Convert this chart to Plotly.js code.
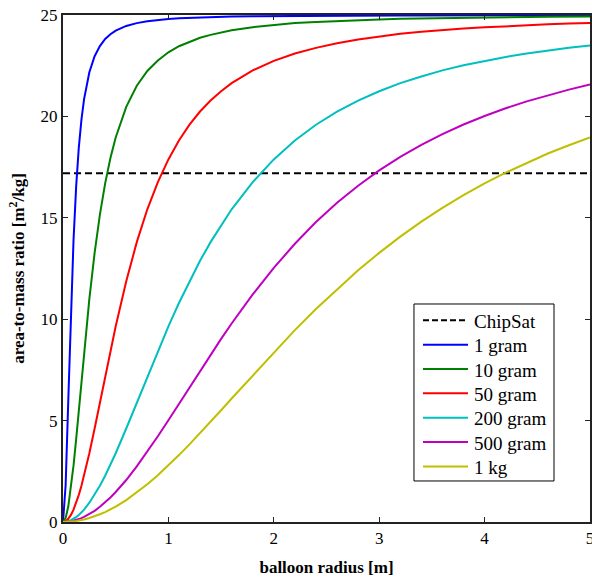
<!DOCTYPE html>
<html>
<head>
<meta charset="utf-8">
<script src="https://cdn.plot.ly/plotly-3.0.1.min.js"></script>
<style>
html,body{margin:0;padding:0;background:#fff;}
#chart{width:592px;height:577px;}
</style>
</head>
<body>
<div id="chart"></div>
<script>
// balloon radius [m]
const radius = [0, 0.025, 0.05, 0.075, 0.1, 0.125, 0.15, 0.175, 0.2, 0.25, 0.3, 0.35, 0.4, 0.45, 0.5, 0.6, 0.7, 0.8, 0.9, 1.0, 1.1, 1.2, 1.3, 1.4, 1.5, 1.6, 1.8, 2.0, 2.2, 2.4, 2.6, 2.8, 3.0, 3.2, 3.4, 3.6, 3.8, 4.0, 4.2, 4.4, 4.6, 4.8, 5.0];

const chipSatLevel = 17.2;

const gram1 = [0, 1.82, 5.98, 10.35, 13.92, 16.56, 18.47, 19.84, 20.85, 22.18, 22.97, 23.47, 23.82, 24.05, 24.23, 24.46, 24.60, 24.69, 24.76, 24.80, 24.84, 24.86, 24.88, 24.90, 24.91, 24.92, 24.94, 24.95, 24.96, 24.97, 24.97, 24.97, 24.98, 24.98, 24.98, 24.98, 24.99, 24.99, 24.99, 24.99, 24.99, 24.99, 24.99];
const gram10 = [0, 0.2, 0.76, 1.65, 2.79, 4.10, 5.51, 6.95, 8.36, 11.00, 13.27, 15.16, 16.70, 17.95, 18.96, 20.47, 21.51, 22.24, 22.76, 23.16, 23.46, 23.69, 23.88, 24.02, 24.15, 24.25, 24.40, 24.51, 24.60, 24.66, 24.71, 24.75, 24.78, 24.81, 24.83, 24.85, 24.86, 24.88, 24.89, 24.90, 24.91, 24.91, 24.92];
const gram50 = [0, 0.04, 0.16, 0.35, 0.61, 0.94, 1.34, 1.79, 2.28, 3.39, 4.61, 5.89, 7.17, 8.43, 9.65, 11.87, 13.80, 15.42, 16.76, 17.88, 18.81, 19.59, 20.24, 20.78, 21.24, 21.64, 22.27, 22.74, 23.10, 23.38, 23.61, 23.79, 23.94, 24.07, 24.17, 24.26, 24.33, 24.39, 24.45, 24.50, 24.54, 24.58, 24.61];
const gram200 = [0, 0.01, 0.04, 0.09, 0.16, 0.24, 0.35, 0.47, 0.61, 0.95, 1.34, 1.79, 2.28, 2.82, 3.39, 4.61, 5.89, 7.17, 8.43, 9.65, 10.80, 11.88, 12.88, 13.80, 14.64, 15.42, 16.76, 17.88, 18.81, 19.59, 20.24, 20.78, 21.24, 21.64, 21.97, 22.27, 22.52, 22.74, 22.93, 23.10, 23.25, 23.38, 23.50];
const gram500 = [0, 0.004, 0.016, 0.035, 0.063, 0.098, 0.14, 0.19, 0.25, 0.39, 0.55, 0.75, 0.97, 1.21, 1.48, 2.07, 2.74, 3.46, 4.23, 5.02, 5.83, 6.64, 7.45, 8.25, 9.03, 9.79, 11.22, 12.53, 13.72, 14.79, 15.74, 16.58, 17.34, 18.00, 18.60, 19.13, 19.60, 20.02, 20.40, 20.74, 21.04, 21.32, 21.57];
const kg1 = [0, 0.002, 0.008, 0.018, 0.031, 0.049, 0.07, 0.096, 0.125, 0.195, 0.28, 0.38, 0.49, 0.62, 0.76, 1.08, 1.45, 1.86, 2.31, 2.79, 3.30, 3.83, 4.38, 4.94, 5.51, 6.09, 7.23, 8.36, 9.46, 10.50, 11.48, 12.41, 13.27, 14.07, 14.81, 15.49, 16.12, 16.70, 17.23, 17.72, 18.17, 18.58, 18.96];

const seriesNames = ["1 gram", "10 gram", "50 gram", "200 gram", "500 gram", "1 kg"];
const seriesData = [gram1, gram10, gram50, gram200, gram500, kg1];
const seriesColors = ["#0000FF", "#008000", "#FF0000", "#00BFBF", "#BF00BF", "#BFBF00"];

const xTicks = [0, 1, 2, 3, 4, 5];
const yTicks = [0, 5, 10, 15, 20, 25];

const fontFam = "Liberation Serif, Times New Roman, serif";

const traces = [{
  x: [radius[0], radius[radius.length - 1]],
  y: [chipSatLevel, chipSatLevel],
  mode: "lines",
  name: "ChipSat",
  line: {color: "#000000", width: 2, dash: "7px,4px"}
}];
seriesData.forEach((d, i) => {
  traces.push({
    x: radius, y: d, mode: "lines", name: seriesNames[i],
    line: {color: seriesColors[i], width: 2}
  });
});

// legend box drawn with paper-referenced shapes & annotations
const legBox = {x0: 0.666, x1: 0.9317, y0: 0.0809, y1: 0.43};
const legLineX0 = 0.6831, legLineX1 = 0.7685, legTextX = 0.776;
const legRowTop = 0.3977, legRowStep = 0.048;
const shapes = [{
  type: "rect", xref: "paper", yref: "paper",
  x0: legBox.x0, x1: legBox.x1, y0: legBox.y0, y1: legBox.y1,
  fillcolor: "#fff", line: {color: "#000", width: 1}, layer: "above"
}];
const annotations = [];
traces.forEach((t, i) => {
  const yy = legRowTop - i * legRowStep;
  shapes.push({
    type: "line", xref: "paper", yref: "paper",
    x0: legLineX0, x1: legLineX1, y0: yy, y1: yy,
    line: {color: t.line.color, width: 2, dash: i === 0 ? "6px,3px" : "solid"}, layer: "above"
  });
  annotations.push({
    xref: "paper", yref: "paper", x: legTextX, y: yy - 0.002,
    xanchor: "left", yanchor: "middle", showarrow: false,
    text: t.name, font: {family: fontFam, size: 19, color: "#000"}
  });
});

const axisCommon = {
  showline: true, linecolor: "#222", linewidth: 2, mirror: "allticks",
  ticks: "inside", ticklen: 5, tickcolor: "#222", tickwidth: 1,
  showgrid: false, zeroline: false, ticklabeloverflow: "allow",
  tickfont: {family: fontFam, size: 17, color: "#000"}
};

const layout = {
  width: 592, height: 577,
  margin: {l: 63, r: 2, t: 15, b: 55},
  paper_bgcolor: "#fff", plot_bgcolor: "#fff",
  font: {family: fontFam, color: "#000"},
  showlegend: false,
  shapes: shapes,
  annotations: annotations,
  xaxis: Object.assign({}, axisCommon, {
    range: [0, 5], tickvals: xTicks, ticktext: xTicks.map(String),
    title: {text: "<b>balloon radius [m]</b>", font: {family: fontFam, size: 17, color: "#000"}, standoff: 14}
  }),
  yaxis: Object.assign({}, axisCommon, {
    range: [0, 25], tickvals: yTicks, ticktext: yTicks.map(String),
    title: {text: "<b>area-to-mass ratio [m<sup>2</sup>/kg]</b>", font: {family: fontFam, size: 17, color: "#000"}, standoff: 12}
  })
};

Plotly.newPlot("chart", traces, layout, {displayModeBar: false, staticPlot: true});
</script>
</body>
</html>
